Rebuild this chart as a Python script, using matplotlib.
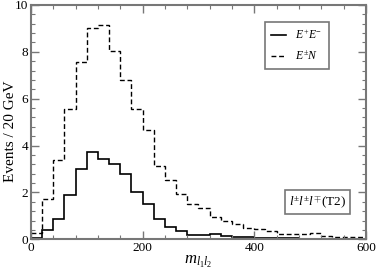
import numpy as np
import matplotlib
matplotlib.use("Agg")
import matplotlib.pyplot as plt
from matplotlib.ticker import MultipleLocator

plt.rcParams["font.family"] = ["Liberation Serif", "DejaVu Serif"]
plt.rcParams["mathtext.fontset"] = "custom"
plt.rcParams["mathtext.rm"] = "Liberation Serif"
plt.rcParams["mathtext.it"] = "Liberation Serif:italic"

# bin edges (GeV), 20 GeV wide
edges = np.arange(0, 620, 20)

# E+E- (solid)
ee = [0.05, 0.40, 0.88, 1.89, 2.99, 3.71, 3.41, 3.21, 2.80, 2.02,
      1.52, 0.85, 0.54, 0.36, 0.18, 0.20, 0.21, 0.14, 0.11, 0.11,
      0.04, 0.06, 0.04, 0.04, 0.03, 0.03, 0.03, 0.02, 0.02, 0.02]

# E+-N (dashed)
en = [0.28, 1.71, 3.39, 5.55, 7.55, 9.03, 9.13, 8.04, 6.79, 5.58,
      4.67, 3.14, 2.52, 1.92, 1.49, 1.35, 0.95, 0.80, 0.64, 0.47,
      0.43, 0.37, 0.21, 0.21, 0.24, 0.26, 0.14, 0.11, 0.09, 0.09]

FRAME = "#777777"

fig = plt.figure(figsize=(3.76, 2.73), dpi=100)
ax = fig.add_axes([0.0824, 0.1234, 0.8906, 0.8583])

ax.stairs(ee, edges, baseline=None, color="black", linewidth=1.2, label=r"$E^{+}E^{-}$")
ax.stairs(en, edges, baseline=None, color="black", linewidth=1.0, linestyle=(0, (3.5, 2)),
          label=r"$E^{\pm}N$")

ax.set_xlim(0, 600)
ax.set_ylim(0, 10)
ax.xaxis.set_major_locator(MultipleLocator(200))
ax.xaxis.set_minor_locator(MultipleLocator(40))
ax.yaxis.set_major_locator(MultipleLocator(2))
ax.yaxis.set_minor_locator(MultipleLocator(0.4))
ax.tick_params(which="both", direction="in", top=True, right=True, color=FRAME,
               labelsize=9.5, pad=2)
ax.tick_params(which="major", length=6, width=1)
ax.tick_params(which="minor", length=3, width=0.8)
for spine in ax.spines.values():
    spine.set_color(FRAME)
    spine.set_linewidth(1.5)

ax.set_ylabel("Events / 20 GeV", fontsize=11)
ax.yaxis.set_label_coords(-0.042, 0.46)
ax.set_xlabel(r"$m_{l_1 l_2}$", fontsize=12, labelpad=0)

leg = ax.legend(loc="upper left", bbox_to_anchor=(0.698, 0.927), fontsize=8.5,
                handlelength=1.3, handletextpad=0.8, fancybox=False,
                edgecolor=FRAME, framealpha=1, borderpad=0.5, labelspacing=0.7,
                borderaxespad=0)
leg.get_frame().set_linewidth(1.2)

ax.text(0.94, 0.16, r"$l^{\pm}l^{\pm}l^{\mp}$(T2)", transform=ax.transAxes,
        ha="right", va="center", fontsize=9.5,
        bbox=dict(boxstyle="square,pad=0.3", fc="white", ec=FRAME, lw=1.2))

fig.savefig("out.png", dpi=100)
